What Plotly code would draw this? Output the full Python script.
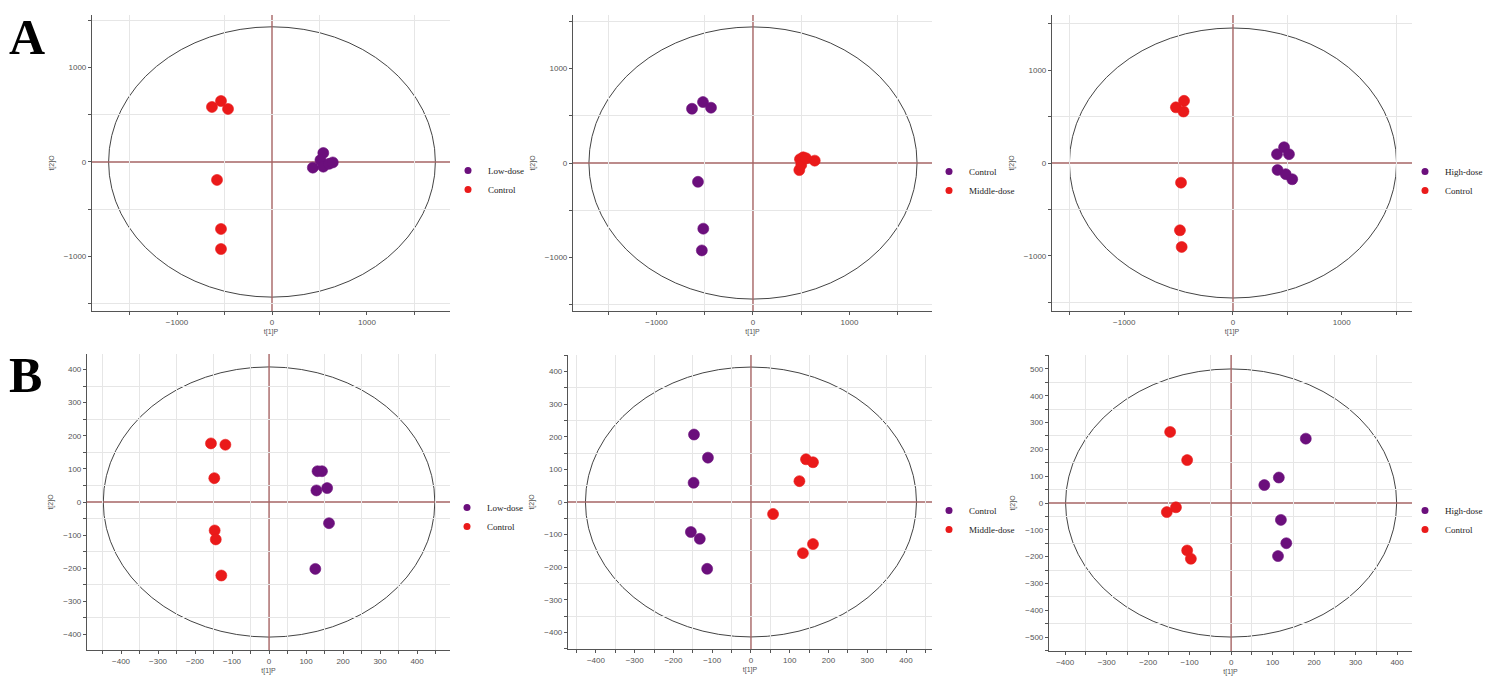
import plotly.graph_objects as go

# ---------------- data ----------------
# Panel A (top row)
a1_low_x = [430, 540, 510, 540, 600, 640]
a1_low_y = [-60, 95, 20, -50, -20, -5]
a1_ctrl_x = [-632, -537, -463, -579, -537, -537]
a1_ctrl_y = [582, 645, 561, -190, -709, -921]

a2_ctrl_x = [-632, -518, -435, -570, -515, -530]
a2_ctrl_y = [574, 645, 585, -199, -695, -925]
a2_mid_x = [487, 520, 640, 480, 500, 550]
a2_mid_y = [40, 60, 25, -75, -20, 50]

a3_high_x = [405, 470, 515, 410, 485, 545]
a3_high_y = [95, 170, 95, -75, -120, -175]
a3_ctrl_x = [-525, -450, -455, -478, -488, -472]
a3_ctrl_y = [600, 670, 555, -212, -725, -905]

# Panel B (bottom row)
b1_low_x = [131, 143, 128, 157, 162, 125]
b1_low_y = [93, 93, 35, 42, -64, -202]
b1_ctrl_x = [-157, -118, -148, -147, -144, -129]
b1_ctrl_y = [177, 173, 72, -86, -113, -222]

b2_ctrl_x = [-147, -111, -148, -155, -132, -113]
b2_ctrl_y = [207, 136, 59, -92, -113, -205]
b2_mid_x = [142, 160, 125, 57, 160, 134]
b2_mid_y = [131, 122, 64, -37, -129, -157]

b3_high_x = [180, 115, 80, 120, 133, 113]
b3_high_y = [240, 95, 67, -63, -150, -198]
b3_ctrl_x = [-147, -106, -155, -133, -106, -97]
b3_ctrl_y = [265, 160, -34, -16, -177, -208]

# Hotelling T2 ellipse semi-axes per panel (x, y)
ellipse_a = [1720, 1700, 1505, 448, 427, 399]
ellipse_b = [1430, 1440, 1455, 408, 414, 500]

x_title = "t[1]P"
y_title = "t[2]O"
panel_letters = ["A", "B"]

PURPLE = "#6b0f7c"
RED = "#ea1a1a"
ZERO = "#a66464"

# page has an 8px body margin: lay the figure out in screen pixels minus OFF
OFF = 8
W, H = 1493 - OFF, 677 - OFF

# pixel boxes (screen coords) for each panel [x0, x1, y0(top), y1(bottom)]
boxes = [
    (92, 450, 15, 311),
    (573, 932, 15, 311),
    (1052, 1412, 15, 311),
    (87, 450, 354, 650),
    (568, 932, 355, 649),
    (1049, 1412, 355, 651),
]
xranges = [(-1895, 1874), (-1865, 1855), (-1665, 1647),
           (-492, 489), (-472, 467), (-439, 436)]
yranges = [(-1577, 1555), (-1566, 1566), (-1595, 1595),
           (-447, 447), (-451, 451), (-552, 552)]

panels = [
    [("Low-dose", a1_low_x, a1_low_y, PURPLE), ("Control", a1_ctrl_x, a1_ctrl_y, RED)],
    [("Control", a2_ctrl_x, a2_ctrl_y, PURPLE), ("Middle-dose", a2_mid_x, a2_mid_y, RED)],
    [("High-dose", a3_high_x, a3_high_y, PURPLE), ("Control", a3_ctrl_x, a3_ctrl_y, RED)],
    [("Low-dose", b1_low_x, b1_low_y, PURPLE), ("Control", b1_ctrl_x, b1_ctrl_y, RED)],
    [("Control", b2_ctrl_x, b2_ctrl_y, PURPLE), ("Middle-dose", b2_mid_x, b2_mid_y, RED)],
    [("High-dose", b3_high_x, b3_high_y, PURPLE), ("Control", b3_ctrl_x, b3_ctrl_y, RED)],
]
# legend top-left (screen coords)
legend_pos = [(448, 156), (929, 157), (1405, 157), (447, 493), (929, 496), (1405, 496)]


def fx(px):
    return (px - OFF) / W


def fy(py):
    return 1 - (py - OFF) / H


fig = go.Figure()
layout = dict(
    width=W, height=H,
    margin=dict(l=0, r=0, t=0, b=0, autoexpand=False),
    paper_bgcolor="white", plot_bgcolor="white",
    showlegend=True,
    font=dict(family="Liberation Sans", size=8, color="#555"),
)

shapes = []
annotations = []

for i, (box, series) in enumerate(zip(boxes, panels)):
    k = "" if i == 0 else str(i + 1)
    xa, ya = "x" + k, "y" + k
    leg = "legend" if i == 0 else "legend" + str(i + 1)
    x0, x1, y0, y1 = box
    top_row = i < 3
    major = 1000 if top_row else 100
    minor = 500 if top_row else 50
    xr, yr = xranges[i], yranges[i]

    # Hotelling ellipse
    shapes.append(dict(type="circle", xref=xa, yref=ya,
                       x0=-ellipse_a[i], x1=ellipse_a[i], y0=-ellipse_b[i], y1=ellipse_b[i],
                       line=dict(color="#444", width=1), layer="below"))
    # origin cross lines
    shapes.append(dict(type="line", xref=xa, yref=ya, x0=xr[0], x1=xr[1], y0=0, y1=0,
                       line=dict(color=ZERO, width=1.4), layer="below"))
    shapes.append(dict(type="line", xref=xa, yref=ya, x0=0, x1=0, y0=yr[0], y1=yr[1],
                       line=dict(color=ZERO, width=1.4), layer="below"))

    for name, xs, ys, col in series:
        fig.add_trace(go.Scatter(
            x=xs, y=ys, mode="markers", name=name, showlegend=False,
            marker=dict(color=col, size=11, line=dict(color=col, width=0.6)),
            xaxis=xa, yaxis=ya,
        ))
    for name, xs, ys, col in series:
        fig.add_trace(go.Scatter(
            x=[None], y=[None], mode="markers", name=name,
            marker=dict(color=col, size=7),
            xaxis=xa, yaxis=ya, legend=leg, hoverinfo="skip",
        ))

    axis_common = dict(
        showline=True, linecolor="#555", linewidth=1.2,
        ticks="outside", ticklen=3, tickcolor="#555",
        showgrid=False, zeroline=False,
        tickfont=dict(family="Liberation Sans", size=8, color="#555"),
    )
    layout["xaxis" + k] = dict(
        axis_common,
        domain=[fx(x0), fx(x1)], range=list(xr), anchor=ya,
        dtick=major, tick0=0,
        minor=dict(dtick=minor, showgrid=True, gridcolor="#e6e6e6", gridwidth=1,
                   ticks="outside", ticklen=3, tickcolor="#555"),
        title=dict(text=x_title, font=dict(family="Liberation Sans", size=7, color="#555"), standoff=3),
    )
    layout["yaxis" + k] = dict(
        axis_common,
        domain=[fy(y1), fy(y0)], range=list(yr), anchor=xa,
        dtick=major, tick0=0,
        minor=dict(dtick=minor, showgrid=True, gridcolor="#e6e6e6", gridwidth=1,
                   ticks="outside", ticklen=3, tickcolor="#555"),
        title=dict(text=y_title, font=dict(family="Liberation Sans", size=7, color="#555"), standoff=8),
    )
    lx, ly = legend_pos[i]
    layout[leg] = dict(
        x=fx(lx), y=fy(ly), xanchor="left", yanchor="top",
        bgcolor="rgba(0,0,0,0)", borderwidth=0,
        font=dict(family="Liberation Serif", size=9, color="#222"),
        itemsizing="trace", tracegroupgap=0,
    )

letter_pos = [(8, 8), (8, 346)]
for letter, (px, py) in zip(panel_letters, letter_pos):
    annotations.append(dict(text="<b>" + letter + "</b>", x=fx(px), y=fy(py),
                            xref="paper", yref="paper", borderpad=0,
                            xanchor="left", yanchor="top", showarrow=False,
                            font=dict(family="Liberation Serif", size=50, color="black")))

layout["shapes"] = shapes
layout["annotations"] = annotations
fig.update_layout(**layout)
fig.write_html("out.html")
